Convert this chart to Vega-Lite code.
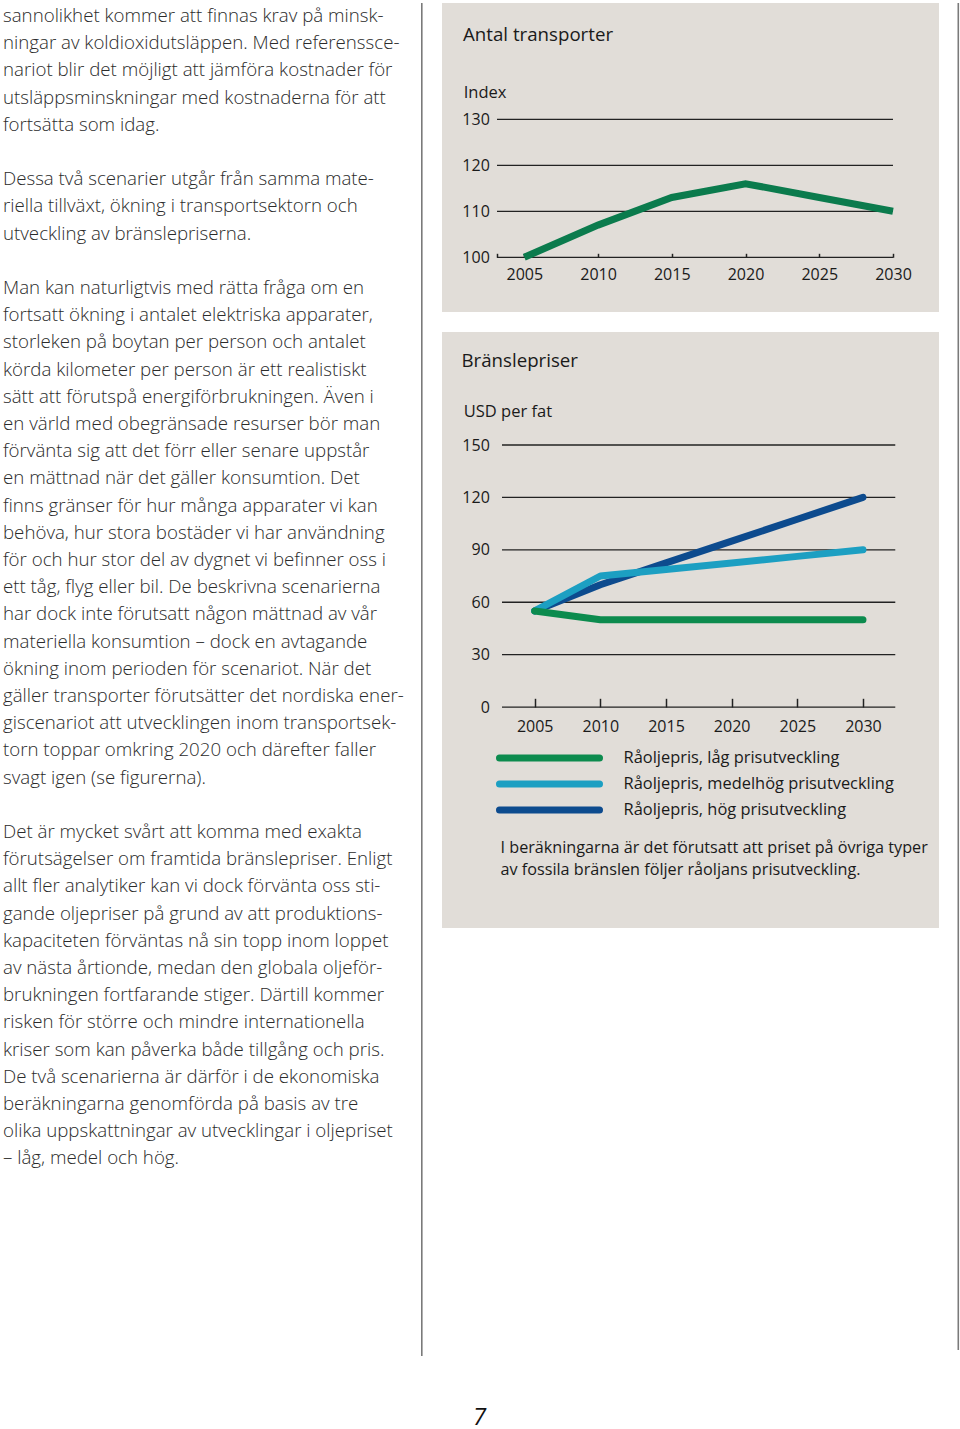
{
  "$schema": "https://vega.github.io/schema/vega-lite/v6.json",
  "padding": {"left": 0, "top": 3, "right": 0, "bottom": 20},
  "background": "white",
  "bounds": "flush",
  "spacing": 19,
  "title": {"text": "7", "orient": "bottom", "anchor": "middle", "offset": 50, "fontSize": 24, "fontStyle": "italic", "fontWeight": "normal", "font": "Open Sans", "color": "#111111"},
  "hconcat": [
    {
      "width": 401.3,
      "height": 1353,
      "data": {"values": [
        {"i": 0, "t": "sannolikhet kommer att finnas krav på minsk-"},
        {"i": 1, "t": "ningar av koldioxidutsläppen. Med referenssce-"},
        {"i": 2, "t": "nariot blir det möjligt att jämföra kostnader för"},
        {"i": 3, "t": "utsläppsminskningar med kostnaderna för att"},
        {"i": 4, "t": "fortsätta som idag."},
        {"i": 6, "t": "Dessa två scenarier utgår från samma mate-"},
        {"i": 7, "t": "riella tillväxt, ökning i transportsektorn och"},
        {"i": 8, "t": "utveckling av bränslepriserna."},
        {"i": 10, "t": "Man kan naturligtvis med rätta fråga om en"},
        {"i": 11, "t": "fortsatt ökning i antalet elektriska apparater,"},
        {"i": 12, "t": "storleken på boytan per person och antalet"},
        {"i": 13, "t": "körda kilometer per person är ett realistiskt"},
        {"i": 14, "t": "sätt att förutspå energiförbrukningen. Även i"},
        {"i": 15, "t": "en värld med obegränsade resurser bör man"},
        {"i": 16, "t": "förvänta sig att det förr eller senare uppstår"},
        {"i": 17, "t": "en mättnad när det gäller konsumtion. Det"},
        {"i": 18, "t": "finns gränser för hur många apparater vi kan"},
        {"i": 19, "t": "behöva, hur stora bostäder vi har användning"},
        {"i": 20, "t": "för och hur stor del av dygnet vi befinner oss i"},
        {"i": 21, "t": "ett tåg, flyg eller bil. De beskrivna scenarierna"},
        {"i": 22, "t": "har dock inte förutsatt någon mättnad av vår"},
        {"i": 23, "t": "materiella konsumtion – dock en avtagande"},
        {"i": 24, "t": "ökning inom perioden för scenariot. När det"},
        {"i": 25, "t": "gäller transporter förutsätter det nordiska ener-"},
        {"i": 26, "t": "giscenariot att utvecklingen inom transportsek-"},
        {"i": 27, "t": "torn toppar omkring 2020 och därefter faller"},
        {"i": 28, "t": "svagt igen (se figurerna)."},
        {"i": 30, "t": "Det är mycket svårt att komma med exakta"},
        {"i": 31, "t": "förutsägelser om framtida bränslepriser. Enligt"},
        {"i": 32, "t": "allt fler analytiker kan vi dock förvänta oss sti-"},
        {"i": 33, "t": "gande oljepriser på grund av att produktions-"},
        {"i": 34, "t": "kapaciteten förväntas nå sin topp inom loppet"},
        {"i": 35, "t": "av nästa årtionde, medan den globala oljeför-"},
        {"i": 36, "t": "brukningen fortfarande stiger. Därtill kommer"},
        {"i": 37, "t": "risken för större och mindre internationella"},
        {"i": 38, "t": "kriser som kan påverka både tillgång och pris."},
        {"i": 39, "t": "De två scenarierna är därför i de ekonomiska"},
        {"i": 40, "t": "beräkningarna genomförda på basis av tre"},
        {"i": 41, "t": "olika uppskattningar av utvecklingar i oljepriset"},
        {"i": 42, "t": "– låg, medel och hög."}
      ]},
      "mark": {"type": "text", "align": "left", "baseline": "middle", "font": "Open Sans", "fontWeight": 300, "fontSize": 18.7, "color": "#2b2b2b"},
      "encoding": {
        "x": {"value": 3},
        "y": {"field": "i", "type": "quantitative", "scale": {"domain": [-0.4779, 49.265], "reverse": true, "nice": false, "zero": false}, "axis": null},
        "text": {"field": "t", "type": "nominal"}
      }
    },
    {
      "width": 1.6,
      "height": 1353,
      "data": {"values": [{"d": 1}]},
      "mark": {"type": "rect", "color": "#7a7a7a"}
    },
    {
      "spacing": 18.5,
      "hconcat": [
        {
          "spacing": 20,
          "bounds": "flush",
          "vconcat": [
            {
              "width": 497,
              "height": 309,
              "view": {"fill": "#e1ddd8", "stroke": null},
              "title": {"text": "Antal transporter", "anchor": "start", "offset": -41.8, "dx": 21, "fontSize": 18.7, "fontWeight": "normal", "font": "Open Sans", "color": "#1a1a1a"},
              "layer": [
                {
                  "data": {"values": [{"v": 100}, {"v": 110}, {"v": 120}, {"v": 130}]},
                  "mark": {"type": "rule", "color": "#222222", "strokeWidth": 1.3},
                  "encoding": {
                    "y": {"field": "v", "type": "quantitative", "title": "Index",
                      "scale": {"domain": [88.11, 155.28], "nice": false, "zero": false},
                      "axis": {"orient": "left", "offset": -55, "values": [100, 110, 120, 130], "labelPadding": 7.7, "title": "Index", "titleAngle": 0, "titleAlign": "left", "titleBaseline": "middle", "titleX": -33.8, "titleY": 89, "titleFontSize": 16.5}},
                    "x": {"datum": 2003.15, "type": "quantitative", "title": null,
                      "scale": {"domain": [1999.42, 2033.12], "nice": false, "zero": false},
                      "axis": {"orient": "bottom", "offset": -54.7, "values": [2003.15, 2005, 2010, 2015, 2020, 2025, 2030], "labelExpr": "datum.value < 2004 ? '' : datum.value", "ticks": true, "tickSize": -4, "tickColor": "#222222", "tickWidth": 1.5, "labelPadding": 12.8, "title": null}},
                    "x2": {"datum": 2030}
                  }
                },
                {
                  "data": {"values": [
                    {"year": 2005, "index": 100},
                    {"year": 2010, "index": 107},
                    {"year": 2015, "index": 113},
                    {"year": 2020, "index": 116},
                    {"year": 2025, "index": 113},
                    {"year": 2030, "index": 110}
                  ]},
                  "mark": {"type": "line", "color": "#0b7b4d", "strokeWidth": 7, "strokeJoin": "miter"},
                  "encoding": {
                    "x": {"field": "year", "type": "quantitative", "title": null},
                    "y": {"field": "index", "type": "quantitative", "title": "Index"}
                  }
                }
              ]
            },
            {
              "width": 497,
              "height": 596,
              "view": {"fill": "#e1ddd8", "stroke": null},
              "title": {"text": "Bränslepriser", "anchor": "start", "offset": -38.8, "dx": 19.5, "fontSize": 18.7, "fontWeight": "normal", "font": "Open Sans", "color": "#1a1a1a"},
              "layer": [
                {
                  "data": {"values": [{"v": 0}, {"v": 30}, {"v": 60}, {"v": 90}, {"v": 120}, {"v": 150}]},
                  "mark": {"type": "rule", "color": "#222222", "strokeWidth": 1.3},
                  "encoding": {
                    "y": {"field": "v", "type": "quantitative", "title": "USD per fat",
                      "scale": {"domain": [-126.5, 214.7], "nice": false, "zero": false},
                      "axis": {"orient": "left", "offset": -60, "values": [0, 30, 60, 90, 120, 150], "labelPadding": 12.7, "title": "USD per fat", "titleAngle": 0, "titleAlign": "left", "titleBaseline": "middle", "titleX": -38.8, "titleY": 79, "titleFontSize": 16.5}},
                    "x": {"datum": 2002.51, "type": "quantitative",
                      "title": ["I beräkningarna är det förutsatt att priset på övriga typer", "av fossila bränslen följer råoljans prisutveckling."],
                      "scale": {"domain": [1997.94, 2035.79], "nice": false, "zero": false},
                      "axis": {"orient": "bottom", "offset": -221, "values": [2005, 2010, 2015, 2020, 2025, 2030], "format": "d", "ticks": true, "tickSize": -8.7, "tickColor": "#222222", "tickWidth": 1.5, "labelPadding": 20.5,
                        "title": ["I beräkningarna är det förutsatt att priset på övriga typer", "av fossila bränslen följer råoljans prisutveckling."],
                        "titleX": 58, "titleY": 145.7, "titleAlign": "left", "titleAnchor": "start", "titleBaseline": "alphabetic", "titleAngle": 0, "titleFontSize": 16.2, "titleLineHeight": 21.7, "titleLimit": 1000}},
                    "x2": {"datum": 2032.46}
                  }
                },
                {
                  "data": {"values": [
                    {"year": 2005, "price": 55, "serie": "Råoljepris, hög prisutveckling"},
                    {"year": 2010, "price": 70, "serie": "Råoljepris, hög prisutveckling"},
                    {"year": 2015, "price": 82.5, "serie": "Råoljepris, hög prisutveckling"},
                    {"year": 2020, "price": 95, "serie": "Råoljepris, hög prisutveckling"},
                    {"year": 2025, "price": 107.5, "serie": "Råoljepris, hög prisutveckling"},
                    {"year": 2030, "price": 120, "serie": "Råoljepris, hög prisutveckling"},
                    {"year": 2005, "price": 55, "serie": "Råoljepris, medelhög prisutveckling"},
                    {"year": 2010, "price": 75, "serie": "Råoljepris, medelhög prisutveckling"},
                    {"year": 2015, "price": 78.75, "serie": "Råoljepris, medelhög prisutveckling"},
                    {"year": 2020, "price": 82.5, "serie": "Råoljepris, medelhög prisutveckling"},
                    {"year": 2025, "price": 86.25, "serie": "Råoljepris, medelhög prisutveckling"},
                    {"year": 2030, "price": 90, "serie": "Råoljepris, medelhög prisutveckling"},
                    {"year": 2005, "price": 55, "serie": "Råoljepris, låg prisutveckling"},
                    {"year": 2010, "price": 50, "serie": "Råoljepris, låg prisutveckling"},
                    {"year": 2015, "price": 50, "serie": "Råoljepris, låg prisutveckling"},
                    {"year": 2020, "price": 50, "serie": "Råoljepris, låg prisutveckling"},
                    {"year": 2025, "price": 50, "serie": "Råoljepris, låg prisutveckling"},
                    {"year": 2030, "price": 50, "serie": "Råoljepris, låg prisutveckling"}
                  ]},
                  "mark": {"type": "line", "strokeWidth": 7, "strokeCap": "round", "strokeJoin": "round"},
                  "encoding": {
                    "x": {"field": "year", "type": "quantitative", "title": ["I beräkningarna är det förutsatt att priset på övriga typer", "av fossila bränslen följer råoljans prisutveckling."]},
                    "y": {"field": "price", "type": "quantitative", "title": "USD per fat"},
                    "color": {"field": "serie", "type": "nominal",
                      "scale": {"domain": ["Råoljepris, låg prisutveckling", "Råoljepris, medelhög prisutveckling", "Råoljepris, hög prisutveckling"], "range": ["#0c8b4e", "#1c9fc2", "#0d4b8e"]},
                      "legend": {"orient": "none", "legendX": 540.5, "legendY": 746, "title": null, "direction": "vertical", "symbolType": "M-9.45,0H9.45", "symbolSize": 112, "symbolStrokeWidth": 7, "symbolOpacity": 1, "labelFont": "Open Sans", "labelFontSize": 16.4, "labelColor": "#1a1a1a", "labelLimit": 500, "labelOffset": 65.1, "rowPadding": -2,
                        "encode": {"symbols": {"update": {"strokeCap": {"value": "round"}}}}}
                    }
                  }
                }
              ]
            }
          ]
        },
        {
          "width": 1.6,
          "height": 1347,
          "data": {"values": [{"d": 1}]},
          "mark": {"type": "rect", "color": "#7a7a7a"}
        }
      ]
    }
  ],
  "config": {
    "view": {"stroke": null},
    "font": "Open Sans",
    "axis": {"grid": false, "domain": false, "ticks": false, "labelFont": "Open Sans", "labelFontSize": 16, "labelColor": "#1a1a1a", "titleFont": "Open Sans", "titleFontWeight": "normal", "titleColor": "#1a1a1a", "labelOverlap": false, "labelFlush": false}
  }
}
